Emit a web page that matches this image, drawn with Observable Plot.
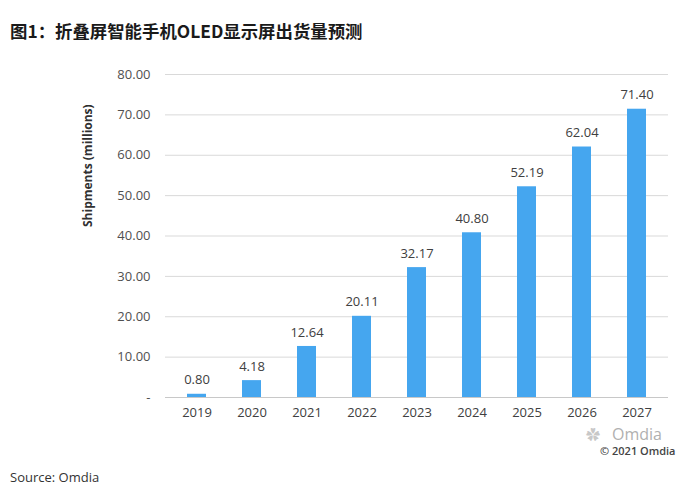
<!DOCTYPE html>
<html>
<head>
<meta charset="utf-8">
<script src="https://cdn.jsdelivr.net/npm/d3@7"></script>
<script src="https://cdn.jsdelivr.net/npm/@observablehq/plot@0.6"></script>
<style>
  html, body { margin: 0; padding: 0; background: #fff; }
  #wrap { position: relative; width: 691px; height: 493px; overflow: hidden; font-family: "Open Sans", "Noto Sans CJK SC", sans-serif; }
  #title { position: absolute; left: 10px; top: 18px; font-family: "Noto Sans CJK SC", sans-serif; font-weight: bold; font-size: 17.4px; color: #1a1a1a; white-space: nowrap; }
  #chart { position: absolute; left: 0; top: 50px; }
  #source { position: absolute; left: 10px; top: 468px; font-size: 13px; color: #333; }
  #wm1 { position: absolute; left: 612px; top: 423px; font-size: 16px; color: #b0b0b0; }
  #wm0 { position: absolute; left: 586px; top: 424px; font-size: 14px; color: #c8c8c8; }
  #wm2 { position: absolute; left: 600px; top: 443px; font-size: 11px; color: #444; font-weight: 600; }
</style>
</head>
<body>
<div id="wrap">
  <div id="title">图1：折叠屏智能手机OLED显示屏出货量预测</div>
  <div id="chart"></div>
  <div id="wm0">✿</div>
  <div id="wm1">Omdia</div>
  <div id="wm2">© 2021 Omdia</div>
  <div id="source">Source: Omdia</div>
</div>
<script>
const years = ["2019", "2020", "2021", "2022", "2023", "2024", "2025", "2026", "2027"];
const shipments = [0.80, 4.18, 12.64, 20.11, 32.17, 40.80, 52.19, 62.04, 71.40];
const yTicks = [0, 10, 20, 30, 40, 50, 60, 70, 80];
const yLabel = "Shipments (millions)";

const data = years.map((y, i) => ({year: y, value: shipments[i]}));
const barColor = "#45a6ef";

const plot = Plot.plot({
  width: 691,
  height: 400,
  marginTop: 24,
  marginBottom: 53,
  marginLeft: 165,
  marginRight: 23,
  style: { fontFamily: "'Open Sans', sans-serif", fontSize: "13px", color: "#404040", background: "transparent" },
  x: { domain: years, paddingInner: 0.66, paddingOuter: 0.33, label: null },
  y: { domain: [0, 80], label: null },
  marks: [
    Plot.gridY(yTicks.filter(d => d > 0), { stroke: "#d9d9d9", strokeOpacity: 1 }),
    Plot.ruleY([0], { stroke: "#c8c8c8" }),
    Plot.barY(data, { x: "year", y: "value", fill: barColor }),
    Plot.text(data, { x: "year", y: "value", text: d => d.value.toFixed(2), dy: -14, fill: "#404040", fontSize: 13 }),
    Plot.axisY(yTicks, { tickSize: 0, tickPadding: 15, tickFormat: d => d === 0 ? "-" : d.toFixed(2), fill: "#505050", fontSize: 13, label: null }),
    Plot.axisX({ tickSize: 0, tickPadding: 10, fill: "#404040", fontSize: 13, label: null }),
    Plot.text([yLabel], { frameAnchor: "left", dx: -77, dy: -9, rotate: -90, text: d => d, fontWeight: "bold", fontSize: 12, fill: "#303030" })
  ]
});
document.getElementById("chart").appendChild(plot);
</script>
</body>
</html>
